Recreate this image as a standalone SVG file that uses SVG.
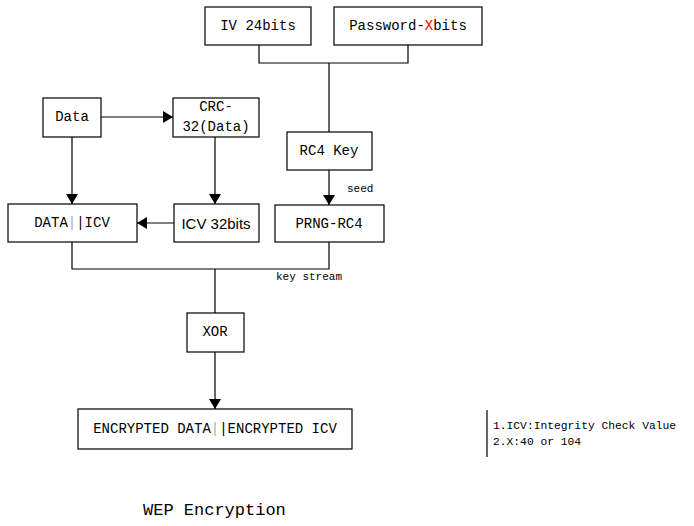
<svg xmlns="http://www.w3.org/2000/svg" width="694" height="526" viewBox="0 0 694 526">
<style>
.box{fill:#fff;stroke:#000;stroke-width:1.2}
.t{font-family:"Liberation Mono",monospace;font-size:14px;fill:#000;text-anchor:middle;dominant-baseline:central}
.s{font-family:"Liberation Mono",monospace;font-size:11px;fill:#000}
.ln{fill:none;stroke:#000;stroke-width:1.2}
.g{fill:#aaa}
</style>
<defs>
<marker id="ar" markerWidth="10" markerHeight="12" refX="10" refY="6" orient="auto" markerUnits="userSpaceOnUse">
<path d="M0,0 L10,6 L0,12 Z" fill="#000"/>
</marker>
</defs>
<rect width="694" height="526" fill="#fff"/>
<g id="connectors">
<path class="ln" d="M259,45 V63 H408 V45"/>
<path class="ln" d="M329,63 V132"/>
<path class="ln" d="M329,170 V205" marker-end="url(#ar)"/>
<path class="ln" d="M101,117 H173" marker-end="url(#ar)"/>
<path class="ln" d="M72,137 V204" marker-end="url(#ar)"/>
<path class="ln" d="M215,137 V204" marker-end="url(#ar)"/>
<path class="ln" d="M174,223 H137" marker-end="url(#ar)"/>
<path class="ln" d="M72,242 V269 H329 V242"/>
<path class="ln" d="M215,269 V313"/>
<path class="ln" d="M215,352 V409" marker-end="url(#ar)"/>
<text class="s" x="347" y="192">seed</text>
<text class="s" x="276" y="280">key stream</text>
</g>
<g id="iv"><rect class="box" x="205" y="7" width="106" height="38"/><text class="t" x="258" y="26">IV 24bits</text></g>
<g id="password"><rect class="box" x="334" y="7" width="148" height="38"/><text class="t" x="408" y="26">Password-<tspan fill="#f00">X</tspan>bits</text></g>
<g id="rc4key"><rect class="box" x="287" y="132" width="85" height="38"/><text class="t" x="329" y="151">RC4 Key</text></g>
<g id="prng"><rect class="box" x="275" y="205" width="109" height="37"/><text class="t" x="329" y="224">PRNG-RC4</text></g>
<g id="data"><rect class="box" x="43" y="98" width="58" height="39"/><text class="t" x="72" y="117">Data</text></g>
<g id="crc"><rect class="box" x="173" y="98" width="86" height="39"/><text class="t" x="216" y="107">CRC-</text><text class="t" x="216" y="127">32(Data)</text></g>
<g id="dataicv"><rect class="box" x="8" y="204" width="129" height="38"/><text class="t" x="72" y="223">DATA<tspan class="g">|</tspan>|ICV</text></g>
<g id="icv32"><rect class="box" x="174" y="204" width="85" height="38"/><text class="t" x="216" y="223" style="font-family:'Liberation Sans',sans-serif;font-size:15px">ICV 32bits</text></g>
<g id="xor"><rect class="box" x="187" y="313" width="57" height="39"/><text class="t" x="215" y="332">XOR</text></g>
<g id="encrypted"><rect class="box" x="78" y="409" width="274" height="40"/><text class="t" x="215" y="429">ENCRYPTED DATA<tspan class="g">|</tspan>|ENCRYPTED ICV</text></g>
<g id="notes">
<line x1="487" y1="410" x2="487" y2="457" stroke="#000" stroke-width="1.2"/>
<text class="s" x="493" y="429" style="font-size:11.3px">1.ICV:Integrity Check Value</text>
<text class="s" x="493" y="445" style="font-size:11.3px">2.X:40 or 104</text>
</g>
<text x="143" y="515" style="font-family:'Liberation Mono',monospace;font-size:17px;fill:#000">WEP Encryption</text>
</svg>
